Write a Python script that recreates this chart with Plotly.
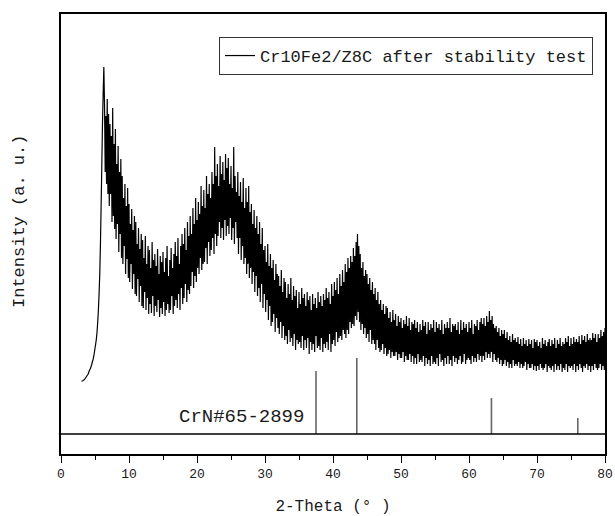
import numpy as np
import plotly.graph_objects as go

# 2-theta grid of the scan: starts at 3.0 deg, step 0.1 deg
theta_start = 3.0
theta_step = 0.1

# Measured intensity (a.u.), one row per degree (d.0 ... d.9)
intensity = [
    53, 53, 53, 54, 54, 55, 56, 57, 58, 59,
    60, 62, 64, 65, 67, 69, 72, 74, 77, 81,
    86, 90, 95, 102, 112, 124, 140, 160, 190, 228,
    268, 310, 340, 367, 330, 262, 318, 250, 335, 240,
    320, 228, 310, 240, 298, 212, 326, 218, 290, 205,
    305, 195, 270, 210, 288, 182, 262, 200, 275, 176,
    258, 170, 236, 188, 250, 160, 228, 175, 246, 156,
    230, 152, 210, 170, 225, 145, 204, 160, 218, 140,
    212, 138, 190, 155, 206, 132, 185, 148, 200, 128,
    194, 126, 176, 142, 198, 124, 170, 136, 188, 120,
    184, 130, 166, 121, 192, 138, 174, 118, 180, 128,
    168, 122, 185, 134, 160, 117, 178, 126, 172, 120,
    182, 132, 162, 118, 176, 124, 188, 130, 158, 121,
    174, 124, 186, 138, 166, 120, 180, 128, 192, 134,
    178, 126, 196, 140, 170, 124, 188, 146, 200, 130,
    190, 136, 206, 150, 184, 132, 212, 144, 198, 140,
    218, 148, 200, 162, 226, 146, 210, 158, 236, 152,
    214, 166, 232, 160, 220, 176, 248, 164, 228, 170,
    244, 172, 226, 186, 258, 170, 240, 192, 250, 178,
    236, 184, 262, 196, 250, 180, 287, 200, 258, 188,
    270, 198, 248, 212, 278, 196, 260, 206, 272, 194,
    254, 214, 280, 198, 266, 208, 276, 200, 250, 216,
    268, 194, 246, 206, 287, 190, 258, 212, 242, 196,
    262, 180, 238, 196, 252, 174, 232, 188, 256, 170,
    226, 176, 246, 160, 232, 170, 248, 156, 222, 166,
    230, 150, 210, 162, 224, 142, 206, 158, 218, 138,
    200, 146, 212, 132, 190, 150, 206, 126, 184, 140,
    188, 122, 172, 134, 190, 114, 168, 128, 180, 108,
    166, 112, 174, 120, 154, 102, 170, 116, 160, 106,
    158, 100, 148, 112, 164, 96, 142, 108, 156, 94,
    152, 98, 136, 90, 150, 104, 140, 92, 156, 96,
    134, 88, 148, 100, 138, 84, 144, 94, 126, 90,
    142, 92, 130, 86, 146, 98, 136, 84, 140, 94,
    128, 86, 142, 96, 134, 80, 138, 92, 124, 84,
    140, 90, 130, 82, 136, 98, 126, 86, 142, 88,
    132, 84, 138, 96, 128, 82, 140, 90, 134, 86,
    146, 92, 136, 84, 142, 100, 130, 82, 150, 90,
    138, 94, 152, 88, 144, 102, 156, 92, 140, 96,
    160, 98, 148, 94, 164, 104, 152, 100, 170, 96,
    162, 104, 176, 100, 166, 112, 178, 106, 172, 110,
    186, 108, 178, 118, 192, 114, 200, 122, 188, 112,
    180, 104, 166, 110, 172, 100, 158, 106, 164, 96,
    160, 100, 150, 92, 156, 104, 144, 90, 152, 94,
    140, 90, 146, 84, 134, 94, 142, 86, 130, 82,
    134, 84, 124, 90, 130, 80, 120, 86, 128, 78,
    126, 80, 116, 84, 122, 76, 112, 82, 124, 78,
    114, 78, 120, 82, 108, 74, 118, 80, 112, 76,
    116, 76, 106, 82, 114, 72, 110, 78, 118, 74,
    108, 74, 116, 80, 104, 72, 112, 78, 110, 70,
    114, 76, 106, 70, 112, 80, 102, 72, 110, 74,
    104, 72, 114, 78, 108, 68, 112, 76, 100, 70,
    112, 74, 104, 68, 110, 78, 106, 70, 114, 72,
    102, 70, 112, 76, 106, 68, 110, 80, 104, 72,
    114, 74, 100, 68, 110, 76, 106, 70, 112, 78,
    106, 70, 116, 74, 102, 68, 110, 78, 108, 72,
    110, 76, 104, 70, 112, 74, 100, 78, 114, 70,
    104, 72, 112, 80, 106, 70, 110, 74, 102, 76,
    112, 74, 106, 70, 114, 78, 100, 72, 110, 76,
    108, 72, 114, 80, 104, 74, 112, 78, 116, 72,
    110, 78, 116, 74, 108, 82, 118, 76, 112, 80,
    123, 76, 114, 82, 118, 72, 110, 80, 106, 74,
    108, 72, 102, 76, 106, 70, 98, 74, 104, 68,
    100, 70, 104, 74, 96, 68, 102, 72, 94, 66,
    98, 70, 92, 66, 100, 74, 94, 68, 96, 70,
    92, 68, 97, 72, 90, 66, 95, 70, 88, 66,
    96, 68, 90, 72, 94, 64, 88, 70, 95, 66,
    90, 66, 94, 70, 86, 64, 95, 68, 92, 63,
    94, 68, 88, 64, 92, 70, 86, 66, 96, 64,
    90, 66, 94, 70, 88, 62, 92, 68, 95, 66,
    88, 64, 94, 68, 90, 62, 96, 70, 86, 64,
    94, 68, 90, 64, 96, 70, 88, 62, 92, 66,
    90, 64, 96, 70, 92, 62, 98, 68, 88, 66,
    96, 68, 90, 64, 97, 70, 92, 62, 95, 68,
    92, 64, 98, 70, 90, 66, 99, 62, 94, 68,
    98, 66, 92, 70, 100, 64, 94, 68, 96, 62,
    94, 68, 101, 64, 96, 70, 100, 66, 92, 64,
    100, 66, 96, 70, 104, 64, 98, 68, 102, 64,
    106,
]

# Reference pattern CrN #65-2899 (positions, relative heights)
ref_pos = [37.5, 43.5, 63.3, 76.0]
ref_height = [63, 76, 36, 16]

series_name = "Cr10Fe2/Z8C after stability test"
ref_name = "CrN#65-2899"
x_ticks = [0, 10, 20, 30, 40, 50, 60, 70, 80]

two_theta = np.round(theta_start + theta_step * np.arange(len(intensity)), 2)

FONT = "Liberation Mono"
TXT = "#1a1a1a"

fig = go.Figure()
fig.add_trace(go.Scatter(
    x=two_theta, y=intensity, mode="lines", name=series_name,
    line=dict(color="black", width=1.2, simplify=False),
))

sx, sy = [], []
for p, h in zip(ref_pos, ref_height):
    sx += [p, p, None]
    sy += [0, h, None]
fig.add_trace(go.Scatter(
    x=sx, y=sy, mode="lines", showlegend=False,
    line=dict(color="#666666", width=1.6),
))

fig.add_shape(type="line", xref="paper", yref="y", x0=-0.004, x1=1, y0=0, y1=0,
              line=dict(color="black", width=1.5))

fig.add_annotation(x=26.5, y=17, xref="x", yref="y", text=ref_name, showarrow=False,
                   font=dict(family=FONT, size=19, color=TXT))

fig.add_annotation(x=-(61 - 19) / 544, y=(454 - 222) / 440, xref="paper", yref="paper",
                   xanchor="center", yanchor="middle",
                   text="Intensity (a. u.)", textangle=-90, showarrow=False,
                   font=dict(family=FONT, size=17, color=TXT))

fig.update_layout(
    width=615, height=516,
    margin=dict(l=61, r=10, t=14, b=62),
    paper_bgcolor="white", plot_bgcolor="white",
    showlegend=True,
    legend=dict(x=(593 - 61) / 544, y=(454 - 37) / 440, xanchor="right", yanchor="top",
                bordercolor="#333333", borderwidth=1, bgcolor="white",
                font=dict(family=FONT, size=17, color=TXT),
                itemwidth=30, tracegroupgap=0),
    xaxis=dict(range=[0, 80], tickvals=x_ticks, ticks="outside", ticklen=7, tickwidth=1.2,
               tickcolor="black", showline=True, linecolor="black", linewidth=1.6,
               mirror=True, showgrid=False, zeroline=False, automargin=False,
               minor=dict(dtick=5, ticks="outside", ticklen=4, tickwidth=1.2, tickcolor="black"),
               tickfont=dict(family=FONT, size=13, color=TXT),
               title=dict(text="2-Theta (° )", standoff=18,
                          font=dict(family=FONT, size=16, color=TXT))),
    yaxis=dict(range=[-20, 420], showticklabels=False, ticks="", showline=True,
               automargin=False,
               linecolor="black", linewidth=1.6, mirror=True, showgrid=False, zeroline=False),
)

fig.write_html("out.html")
